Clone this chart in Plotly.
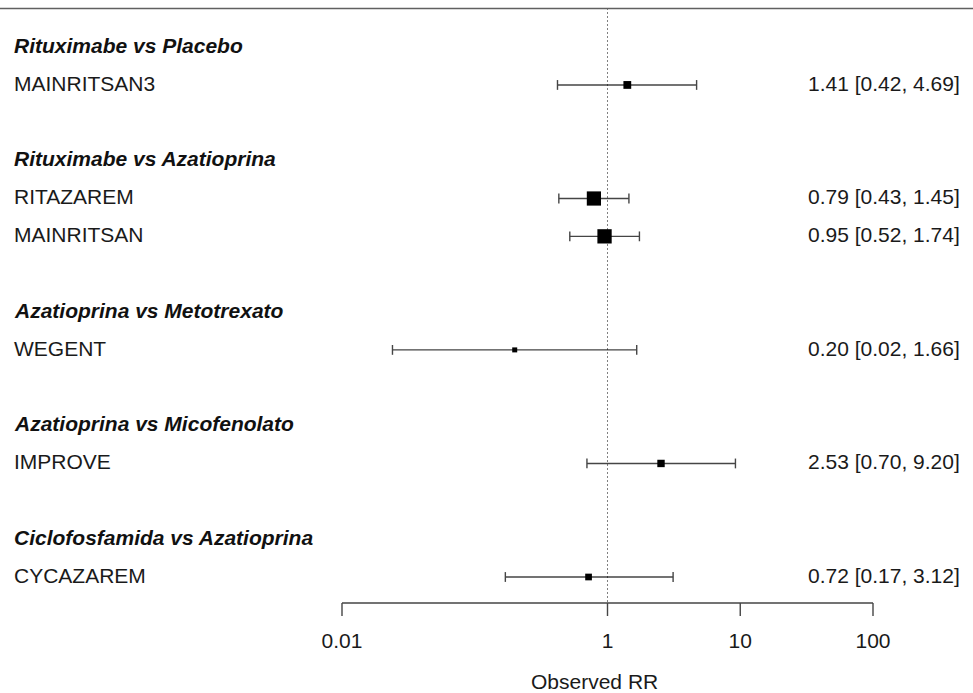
import numpy as np
import plotly.graph_objects as go

# ---------------- data ----------------
groups = [
    "Rituximabe vs Placebo",
    "Rituximabe vs Azatioprina",
    "Azatioprina vs Metotrexato",
    "Azatioprina vs Micofenolato",
    "Ciclofosfamida vs Azatioprina",
]
group_studies = [
    ["MAINRITSAN3"],
    ["RITAZAREM", "MAINRITSAN"],
    ["WEGENT"],
    ["IMPROVE"],
    ["CYCAZAREM"],
]
rr = [1.41, 0.79, 0.95, 0.20, 2.53, 0.72]
ci_low = [0.42, 0.43, 0.52, 0.024, 0.70, 0.17]
ci_high = [4.69, 1.45, 1.74, 1.66, 9.20, 3.12]
label_text = ["1.41 [0.42, 4.69]", "0.79 [0.43, 1.45]", "0.95 [0.52, 1.74]",
              "0.20 [0.02, 1.66]", "2.53 [0.70, 9.20]", "0.72 [0.17, 3.12]"]
tick_vals = [0.01, 1, 10, 100]
tick_text = ["0.01", "1", "10", "100"]
x_label = "Observed RR"

# ---------------- layout geometry ----------------
W, H = 973, 693
X_ONE = 607.5      # pixel of RR = 1
DECADE = 132.75    # pixels per decade
ROW1_PX = 577.0    # pixel of row 1
ROW_PX = 37.85     # pixels per row


def px_to_row(py):
    return 1 + (ROW1_PX - py) / ROW_PX


FONT = "Liberation Sans, Arial, Helvetica, sans-serif"
FS = 21

# rows (top to bottom: header, studies, blank)
n_rows = sum(1 + len(s) + 1 for s in group_studies) - 1
row = n_rows
header_rows, study_rows, study_names = [], [], []
for g, ss in zip(groups, group_studies):
    header_rows.append(row)
    row -= 1
    for s in ss:
        study_rows.append(row)
        study_names.append(s)
        row -= 1
    row -= 1

# marker sizes from inverse standard error (metafor style)
se = (np.log(ci_high) - np.log(ci_low)) / (2 * 1.96)
wi = 1 / se
psize = 5 + (wi - wi.min()) / (wi.max() - wi.min()) * 9.3

fig = go.Figure()

line_col = "#454545"

# CI lines
xs, ys = [], []
for lo, hi, r in zip(ci_low, ci_high, study_rows):
    xs += [lo, hi, None]
    ys += [r, r, None]
fig.add_trace(go.Scatter(x=xs, y=ys, mode="lines",
                         line=dict(color=line_col, width=1.4),
                         hoverinfo="skip"))
# CI end caps
fig.add_trace(go.Scatter(x=list(ci_low) + list(ci_high), y=study_rows + study_rows,
                         mode="markers",
                         marker=dict(symbol="line-ns", size=7,
                                     line=dict(color=line_col, width=1.4)),
                         hoverinfo="skip"))
# point estimates
fig.add_trace(go.Scatter(x=rr, y=study_rows, mode="markers",
                         marker=dict(symbol="square", size=psize, color="black",
                                     opacity=1, line=dict(width=0)),
                         hoverinfo="skip"))

# reference line at 1 (dotted)
y_top = px_to_row(8.5)
y_axis = px_to_row(603)
fig.add_trace(go.Scatter(x=[1, 1], y=[y_top, y_axis], mode="lines",
                         line=dict(color="black", width=1, dash="1px,3px"),
                         hoverinfo="skip"))

# x axis line and ticks
y_tick = px_to_row(616)
ax_x, ax_y = [tick_vals[0], tick_vals[-1], None], [y_axis, y_axis, None]
for t in tick_vals:
    ax_x += [t, t, None]
    ax_y += [y_axis, y_tick, None]
fig.add_trace(go.Scatter(x=ax_x, y=ax_y, mode="lines",
                         line=dict(color=line_col, width=1.4),
                         hoverinfo="skip"))
# tick labels
fig.add_trace(go.Scatter(x=tick_vals, y=[px_to_row(643)] * len(tick_vals),
                         mode="text", text=tick_text,
                         textfont=dict(family=FONT, size=FS, color="#1a1a1a"),
                         hoverinfo="skip"))

annotations = []
# top line
shapes = [dict(type="line", xref="paper", yref="y", x0=0, x1=1,
               y0=y_top, y1=y_top, line=dict(color="#606060", width=1.5))]

for g, r in zip(groups, header_rows):
    annotations.append(dict(x=12 / W, xref="paper", y=r + 0.05, yref="y",
                            text="<b><i>" + g + "</i></b>", showarrow=False,
                            xanchor="left", yanchor="middle",
                            font=dict(family=FONT, size=FS, color="#111")))
for s, r in zip(study_names, study_rows):
    annotations.append(dict(x=12 / W, xref="paper", y=r + 0.05, yref="y",
                            text=s, showarrow=False,
                            xanchor="left", yanchor="middle",
                            font=dict(family=FONT, size=FS, color="#1a1a1a")))
for t, r in zip(label_text, study_rows):
    annotations.append(dict(x=962 / W, xref="paper", y=r + 0.05, yref="y",
                            text=t, showarrow=False,
                            xanchor="right", yanchor="middle",
                            font=dict(family=FONT, size=FS, color="#1a1a1a")))
annotations.append(dict(x=594 / W, xref="paper", y=px_to_row(681), yref="y",
                        text=x_label, showarrow=False,
                        xanchor="center", yanchor="middle",
                        font=dict(family=FONT, size=FS, color="#1a1a1a")))

fig.update_layout(
    width=W, height=H,
    margin=dict(l=0, r=0, t=0, b=0),
    paper_bgcolor="white", plot_bgcolor="white",
    showlegend=False,
    xaxis=dict(type="log",
               range=[-X_ONE / DECADE, (W - X_ONE) / DECADE],
               visible=False, fixedrange=True),
    yaxis=dict(range=[px_to_row(H), px_to_row(0)], visible=False, fixedrange=True),
    annotations=annotations,
    shapes=shapes,
)

fig.write_html("out.html",
               config={"displayModeBar": False, "staticPlot": True},
               post_script="document.body.style.margin='0px';"
                           "document.body.style.overflow='hidden';")
